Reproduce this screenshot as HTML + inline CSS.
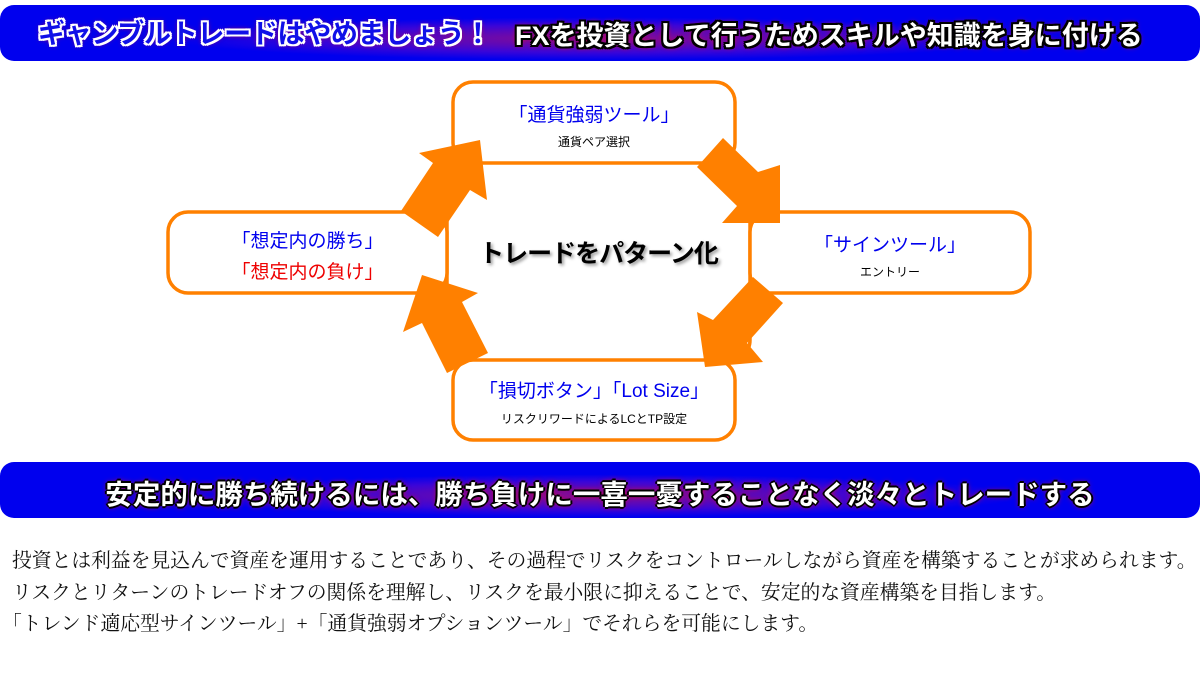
<!DOCTYPE html>
<html><head><meta charset="utf-8"><style>
body{margin:0;width:1200px;height:674px;background:#fff;position:relative;overflow:hidden;font-family:"Liberation Sans","Noto Sans CJK JP",sans-serif}
.bar{position:absolute;left:0;width:1200px;height:56px;border-radius:14px;background:radial-gradient(ellipse 42% 45% at 50% 60%,#8a0c90 0%,#3a05d8 55%,#0000ee 85%);}
.t{position:absolute;font-weight:bold;white-space:nowrap}
.body{position:absolute;left:12px;top:546px;font-family:"Liberation Serif","Noto Serif CJK JP",serif;font-size:19.8px;line-height:31.5px;color:#111;white-space:nowrap}
</style></head><body>
<div class="bar" style="top:5px"></div>
<div class="t" style="left:38px;top:12px;font-size:27px;letter-spacing:-0.3px;color:#1010e8;text-shadow:2px 0 #fff,-2px 0 #fff,0 2px #fff,0 -2px #fff,2px 2px #fff,-2px -2px #fff,2px -2px #fff,-2px 2px #fff,0 0 6px #f00">ギャンブルトレードはやめましょう！</div>
<div class="t" style="left:515px;top:14px;font-size:27px;color:#fff;text-shadow:2px 0 #000,-2px 0 #000,0 2px #000,0 -2px #000,2px 2px #000,-2px -2px #000,2px -2px #000,-2px 2px #000,0 0 6px #f00">FXを投資として行うためスキルや知識を身に付ける</div>

<svg style="position:absolute;left:0;top:0" width="1200" height="674">
<g fill="#fff" stroke="#ff8000" stroke-width="3.5">
<rect x="447" y="162" width="303" height="200" rx="22"/>
<rect x="453" y="82" width="282" height="81" rx="20"/>
<rect x="168" y="212" width="279" height="81" rx="20"/>
<rect x="750" y="212" width="280" height="81" rx="20"/>
<rect x="453" y="360" width="282" height="80" rx="20"/>
</g>
<g fill="#ff8000">
<polygon points="401,211 433,163 419,153 480,140 487,200 470,190 438,237"/>
<polygon points="697,167 723,138 758,172 780,165 780,223 722,223 737,206"/>
<polygon points="753,277 783,303 747,343 763,362 705,367 697,312 713,320"/>
<polygon points="422,275 478,293 462,302 488,353 447,373 422,323 403,332"/>
</g>
</svg>
<div class="t" style="left:453px;top:100px;width:282px;text-align:center;font-size:19px;color:#0000ee;font-weight:normal">「通貨強弱ツール」</div>
<div class="t" style="left:453px;top:133px;width:282px;text-align:center;font-size:12px;color:#000;font-weight:normal">通貨ペア選択</div>
<div class="t" style="left:168px;top:226px;width:279px;text-align:center;font-size:19px;color:#0000ee;font-weight:normal">「想定内の勝ち」</div>
<div class="t" style="left:168px;top:257px;width:279px;text-align:center;font-size:19px;color:#ee0000;font-weight:normal">「想定内の負け」</div>
<div class="t" style="left:750px;top:230px;width:280px;text-align:center;font-size:19px;color:#0000ee;font-weight:normal">「サインツール」</div>
<div class="t" style="left:750px;top:263px;width:280px;text-align:center;font-size:12px;color:#000;font-weight:normal">エントリー</div>
<div class="t" style="left:453px;top:376px;width:282px;text-align:center;font-size:19px;color:#0000ee;font-weight:normal">「損切ボタン」「Lot Size」</div>
<div class="t" style="left:453px;top:410px;width:282px;text-align:center;font-size:12px;color:#000;font-weight:normal">リスクリワードによるLCとTP設定</div>
<div class="t" style="left:447px;top:234px;width:303px;text-align:center;font-size:25px;color:#000;letter-spacing:-1px;text-shadow:2px 2px 3px #999">トレードをパターン化</div>

<div class="bar" style="top:462px"></div>
<div class="t" style="left:0;top:472px;width:1200px;text-align:center;font-size:27.5px;color:#fff;text-shadow:2px 0 #000,-2px 0 #000,0 2px #000,0 -2px #000,1px 1px #000,-1px -1px #000,0 0 6px #f00">安定的に勝ち続けるには、勝ち負けに一喜一憂することなく淡々とトレードする</div>
<div class="body">投資とは利益を見込んで資産を運用することであり、その過程でリスクをコントロールしながら資産を構築することが求められます。<br>リスクとリターンのトレードオフの関係を理解し、リスクを最小限に抑えることで、安定的な資産構築を目指します。<br><span style="margin-left:-10px">「トレンド適応型サインツール」+「通貨強弱オプションツール」でそれらを可能にします。</span></div>
</body></html>
